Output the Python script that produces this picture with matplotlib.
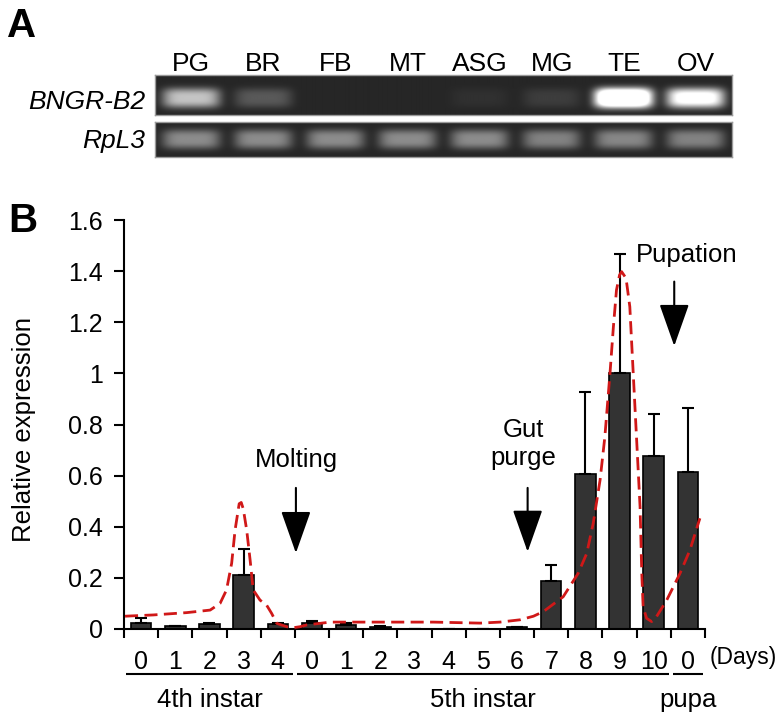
import numpy as np
import matplotlib
matplotlib.use("Agg")
import matplotlib.pyplot as plt
from matplotlib.transforms import blended_transform_factory

plt.rcParams['font.family'] = ['Liberation Sans', 'DejaVu Sans']

# ---------------- data ----------------
lanes = ['PG', 'BR', 'FB', 'MT', 'ASG', 'MG', 'TE', 'OV']
bngr_b2_intensity = [0.62, 0.20, 0.0, 0.0, 0.04, 0.09, 1.40, 0.95]
rpl3_intensity = [0.40, 0.40, 0.40, 0.40, 0.40, 0.36, 0.38, 0.36]

day_labels = ['0', '1', '2', '3', '4',
              '0', '1', '2', '3', '4', '5', '6', '7', '8', '9', '10',
              '0']
values = [0.023, 0.010, 0.020, 0.21, 0.020,
          0.022, 0.015, 0.008, 0.0, 0.0, 0.0, 0.006, 0.188, 0.605, 1.0, 0.677,
          0.614]
errors = [0.020, 0.003, 0.003, 0.103, 0.003,
          0.010, 0.008, 0.003, 0.0, 0.0, 0.0, 0.003, 0.061, 0.322, 0.466, 0.164,
          0.249]
group_names = ['4th instar', '5th instar', 'pupa']
group_sizes = [5, 11, 1]

curve_x = [-0.47, -0.32, 0.36, 1.33, 2.02, 2.31, 2.50, 2.65, 2.75, 2.87, 2.93,
           2.99, 3.09, 3.19, 3.28, 3.48, 3.67, 3.82, 3.97, 4.26, 4.45, 4.65,
           4.85, 5.23, 5.53, 6.60, 8.55, 9.92, 10.50, 11.09, 11.48, 11.77,
           12.35, 12.79, 13.04, 13.23, 13.43, 13.57, 13.72, 13.82, 13.91,
           14.00, 14.06, 14.19, 14.30, 14.40, 14.50, 14.60, 14.65, 14.69,
           14.79, 14.94, 15.08, 15.38, 15.77, 16.06, 16.35]
curve_y = [0.050, 0.051, 0.055, 0.064, 0.074, 0.100, 0.153, 0.257, 0.387, 0.490, 0.495,
           0.470, 0.387, 0.270, 0.153, 0.113, 0.094, 0.061, 0.022, 0.009, 0.005, 0.009,
           0.016, 0.022, 0.027, 0.027, 0.027, 0.023, 0.027, 0.036, 0.050, 0.068,
           0.126, 0.218, 0.296, 0.414, 0.583, 0.752, 1.000, 1.183, 1.326,
           1.385, 1.398, 1.372, 1.261, 1.000, 0.739, 0.478, 0.218, 0.087,
           0.042, 0.029, 0.048, 0.113, 0.218, 0.309, 0.433]

yticks = [0, 0.2, 0.4, 0.6, 0.8, 1.0, 1.2, 1.4, 1.6]
ytick_labels = ['0', '0.2', '0.4', '0.6', '0.8', '1', '1.2', '1.4', '1.6']

annotations = [  # text lines, x, baseline y
    ('Molting', 4.56, 0.635),
    ('Gut', 11.2, 0.752),
    ('purge', 11.17, 0.642),
    ('Pupation', 15.96, 1.437),
]
arrows = [  # x, y_start, y_tip
    (4.53, 0.552, 0.297),
    (11.31, 0.552, 0.302),
    (15.60, 1.359, 1.107),
]

# ---------------- figure ----------------
W, H = 784, 716
fig = plt.figure(figsize=(W / 100, H / 100), dpi=100)


def px_axes(x0, y0, x1, y1):
    return fig.add_axes([x0 / W, 1 - y1 / H, (x1 - x0) / W, (y1 - y0) / H])


def gel_image(intens, yc, wy):
    xs = np.linspace(-0.5, len(intens) - 0.5, 800)
    ys = np.linspace(0, 1, 80)
    X, Y = np.meshgrid(xs, ys)
    img = np.full_like(X, 0.15)
    for i, v in enumerate(intens):
        shape = np.exp(-(np.abs(X - i) / 0.40) ** 5) * np.exp(-(np.abs(Y - yc) / wy) ** 3)
        img += v * shape
    return np.clip(img, 0, 1)


def style_gel(g):
    g.set_xticks([])
    g.set_yticks([])
    for s in g.spines.values():
        s.set_color('#9a9a9a')
        s.set_linewidth(1.0)


gel1 = px_axes(155, 75, 732, 115)
gel1.imshow(gel_image(bngr_b2_intensity, 0.575, 0.25), cmap='gray', vmin=0, vmax=1,
            extent=(-0.5, 7.5, 1, 0), aspect='auto', interpolation='bilinear')
gel1.set_xlim(-0.5, 7.5)
gel1.set_ylim(1, 0)
style_gel(gel1)

gel2 = px_axes(155, 122, 732, 157)
gel2.imshow(gel_image(rpl3_intensity, 0.49, 0.28), cmap='gray', vmin=0, vmax=1,
            extent=(-0.5, 7.5, 1, 0), aspect='auto', interpolation='bilinear')
gel2.set_xlim(-0.5, 7.5)
gel2.set_ylim(1, 0)
style_gel(gel2)

tg = blended_transform_factory(gel1.transData, gel1.transAxes)
for i, name in enumerate(lanes):
    gel1.text(i, 1.10, name, transform=tg, ha='center', va='baseline', fontsize=19)
gel1.text(-0.017, 0.14, 'BNGR-B2', transform=gel1.transAxes, ha='right',
          va='baseline', fontsize=19, style='italic')
gel2.text(-0.017, 0.26, 'RpL3', transform=gel2.transAxes, ha='right',
          va='baseline', fontsize=19, style='italic')

fig.text(7 / W, 1 - 37 / H, 'A', fontsize=29, fontweight='bold', ha='left', va='baseline')
fig.text(8 / W, 1 - 232 / H, 'B', fontsize=29, fontweight='bold', ha='left', va='baseline')

# ---------------- bar chart ----------------
ax = px_axes(124, 220, 705, 629)
x = np.arange(len(values))
ax.bar(x, values, width=0.6, color='#333333', edgecolor='black', linewidth=1.2, zorder=2)
ax.errorbar(x, values, yerr=[np.zeros(len(errors)), errors], fmt='none', ecolor='black',
            elinewidth=1.5, capsize=4, capthick=1.5, zorder=3)
ax.plot(curve_x, curve_y, color='#d01818', lw=2.0, dashes=(4.7, 2.3), zorder=4)

ax.set_xlim(-0.5, len(values) - 0.5)
ax.set_ylim(0, 1.6)
for side in ['top', 'right']:
    ax.spines[side].set_visible(False)
for side in ['left', 'bottom']:
    ax.spines[side].set_linewidth(1.5)

ax.set_yticks(yticks, ytick_labels, fontsize=18)
ax.tick_params(axis='y', direction='out', length=7.2, width=1.5, pad=8)
bounds = np.arange(-0.5, len(values), 1.0)
ax.set_xticks(bounds, [''] * len(bounds))
ax.tick_params(axis='x', which='major', direction='out', length=6.5, width=1.5)
ax.set_xticks(x, day_labels, minor=True, fontsize=18)
ax.tick_params(axis='x', which='minor', length=0, pad=15)

fig.text(24 / W, 1 - 430 / H, 'Relative expression', rotation=90, ha='center',
         va='center', fontsize=18.5)

for txt, tx, ty in annotations:
    ax.text(tx, ty, txt, ha='center', va='baseline', fontsize=18.5)
for axx, y0, y1 in arrows:
    ax.annotate('', xy=(axx, y1), xytext=(axx, y0),
                arrowprops=dict(arrowstyle='-|>,head_length=26.6,head_width=9.4',
                                mutation_scale=1, lw=1.5, color='black',
                                shrinkA=0, shrinkB=0), annotation_clip=False)

trans = blended_transform_factory(ax.transData, ax.transAxes)
start = 0
for name, n in zip(group_names, group_sizes):
    a, b = start - 0.5, start + n - 0.5
    ax.plot([a + 0.05, b - 0.05], [-0.110, -0.110], transform=trans, clip_on=False,
            color='black', lw=1.5, solid_capstyle='butt')
    ax.text((a + b) / 2, -0.1907, name, transform=trans, ha='center', va='baseline',
            fontsize=18.5)
    start += n
ax.text(16.64, -0.0685, '(Days)', transform=trans, ha='left', va='center', fontsize=16.5)

fig.savefig('out.png', dpi=100)
